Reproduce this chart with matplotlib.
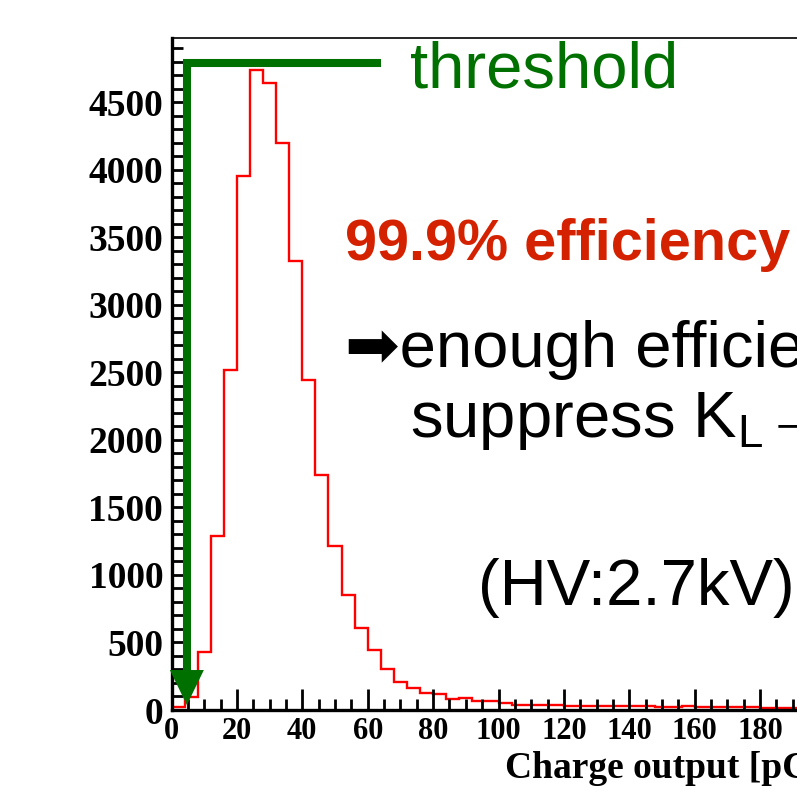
import numpy as np
import matplotlib.pyplot as plt

# histogram contents, 4 pC bins starting at 0
bin_width = 4
counts = [20, 95, 433, 1285, 2520, 3952, 4735, 4645, 4195, 3325,
          2446, 1737, 1215, 850, 609, 441, 305, 205, 165, 125,
          122, 83, 88, 63, 70, 53, 40, 38, 35, 36,
          33, 30, 32, 28, 30, 27, 26, 25, 24, 26,
          22, 22, 20, 21, 19, 18, 18, 17, 16, 16,
          15, 15, 14, 14, 13]
edges = np.arange(len(counts) + 1) * bin_width

# threshold marker (pC) and its drawn extent
thr_x = 4.7
thr_top = 4787
thr_line_end = 64.1
thr_head_top = 296
thr_tip = 37
thr_head_half = 5.2

W, H = 797, 810
fig = plt.figure(figsize=(W / 100, H / 100), dpi=100)

def fx(px):
    return px / W

def fy(py):
    return 1 - py / H

# axes extends past the right edge (slide crop)
x0, y0 = 171.5, 710
ppu = 3.27
xmax = 300
ax = fig.add_axes([fx(x0), fy(y0), xmax * ppu / W, (y0 - 38) / H])
ax.set_xlim(0, xmax)
ax.set_ylim(0, 4975)

ax.stairs(counts, edges, color='red', lw=1.7)

# green threshold arrow
green = '#007000'
ax.plot([thr_line_end, thr_x, thr_x], [thr_top, thr_top, thr_head_top - 10],
        color=green, lw=5.8, solid_joinstyle='miter', solid_capstyle='butt',
        clip_on=False, zorder=5)
ax.fill([thr_x - thr_head_half, thr_x + thr_head_half, thr_x],
        [thr_head_top, thr_head_top, thr_tip], color=green, lw=0,
        clip_on=False, zorder=5)

# ticks, ROOT style
ax.set_xticks(np.arange(0, 201, 20))
ax.set_xticks(np.arange(0, 201, 5), minor=True)
ax.set_yticks(np.arange(0, 4501, 500))
ax.set_yticks(np.arange(0, 4901, 100), minor=True)
ax.tick_params(axis='x', which='major', direction='in', length=15, width=2, pad=5)
ax.tick_params(axis='x', which='minor', direction='in', length=8, width=2)
ax.tick_params(axis='y', which='major', direction='in', length=12, width=2, pad=6)
ax.tick_params(axis='y', which='minor', direction='in', length=8, width=2)
for lab in ax.get_xticklabels():
    lab.set_fontfamily('Liberation Serif')
    lab.set_fontweight('bold')
    lab.set_fontsize(22)
for lab in ax.get_yticklabels():
    lab.set_fontfamily('Liberation Serif')
    lab.set_fontweight('bold')
    lab.set_fontsize(27)

ax.spines['left'].set_linewidth(2.4)
ax.spines['bottom'].set_linewidth(2.4)
ax.spines['top'].set_linewidth(1.2)
ax.spines['right'].set_visible(False)

ax.set_xlabel('Charge output [pC]', fontfamily='Liberation Serif',
              fontweight='bold', fontsize=27, ha='left', va='baseline')
ax.xaxis.set_label_coords((505 - x0) / (xmax * ppu), -(778 - y0) / (y0 - 38))

# slide annotations
sans = ['Liberation Sans', 'DejaVu Sans']
plt.rcParams['mathtext.fontset'] = 'custom'
plt.rcParams['mathtext.rm'] = 'Liberation Sans'
fig.text(fx(410), fy(88), 'threshold', color=green, fontsize=47,
         family=sans, va='baseline')
fig.text(fx(345), fy(260), '99.9% efficiency', color='#d42200', fontsize=41.5,
         fontweight='bold', family=sans, va='baseline')
fig.text(fx(345), fy(367), '\u27a1enough efficiency to', color='black',
         fontsize=47, family=sans, va='baseline')
fig.text(fx(410), fy(437), 'suppress K$_\\mathrm{L}$\u2192', color='black',
         fontsize=47, family=sans, va='baseline')
fig.text(fx(478), fy(605), '(HV:2.7kV)', color='black', fontsize=47,
         family=sans, va='baseline')

fig.savefig('out.png', dpi=100)
